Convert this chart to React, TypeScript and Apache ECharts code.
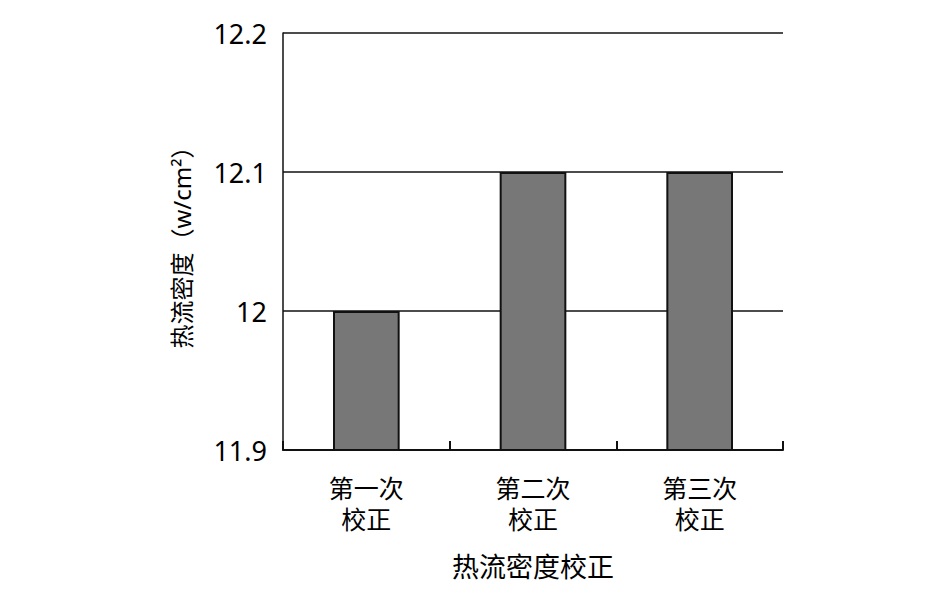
import React, { useEffect, useRef } from "react";
import * as echarts from "echarts";

const categories = ["第一次\n校正", "第二次\n校正", "第三次\n校正"];
const values = [12.0, 12.1, 12.1];
const yMin = 11.9;
const yMax = 12.2;
const yInterval = 0.1;
const xName = "热流密度校正";
const yName = "热流密度（w/cm²）";

export default function App() {
  const ref = useRef<HTMLDivElement>(null);
  useEffect(() => {
    if (!ref.current) return;
    const chart = echarts.init(ref.current, undefined, { renderer: "svg" });
    const font = "'Noto Sans', 'Noto Sans CJK SC', sans-serif";
    chart.setOption({
      animation: false,
      backgroundColor: "#ffffff",
      grid: { left: 283, top: 33, width: 500, height: 417, containLabel: false },
      xAxis: {
        type: "category",
        data: categories,
        name: xName,
        nameLocation: "middle",
        nameGap: 103,
        nameTextStyle: { fontSize: 27, color: "#000", fontFamily: font },
        axisLine: { lineStyle: { color: "#111", width: 2 } },
        axisTick: { show: true, inside: true, length: 9, interval: 0, lineStyle: { color: "#111", width: 2 } },
        axisLabel: { fontSize: 25, lineHeight: 31, color: "#000", margin: 22, fontFamily: font, interval: 0 },
        splitLine: { show: false },
      },
      yAxis: {
        type: "value",
        min: yMin,
        max: yMax,
        interval: yInterval,
        name: yName,
        nameLocation: "middle",
        nameGap: 90,
        nameTextStyle: { fontSize: 24, color: "#000", fontFamily: font },
        axisLine: { show: true, lineStyle: { color: "#111", width: 1.5 } },
        axisTick: { show: false },
        axisLabel: {
          fontSize: 27,
          color: "#000",
          margin: 16,
          fontFamily: font,
          formatter: (v: number) => String(parseFloat(v.toFixed(1))),
        },
        splitLine: { show: true, lineStyle: { color: "#111", width: 1.5 } },
      },
      series: [
        {
          type: "bar",
          data: values,
          barWidth: "40%",
          itemStyle: { color: "#777777", borderColor: "#111", borderWidth: 2 },
        },
      ],
    });
    return () => chart.dispose();
  }, []);
  return <div ref={ref} style={{ position: "fixed", left: 0, top: 0, width: 945, height: 602 }} />;
}
